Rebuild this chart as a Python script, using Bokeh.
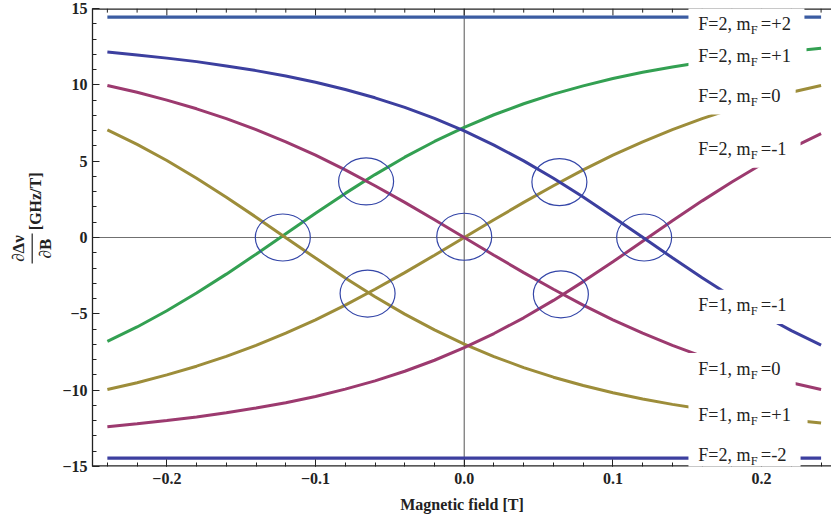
from math import pi

from bokeh.embed import file_html
from bokeh.layouts import row
from bokeh.models import (Arrow, BoxAnnotation, CustomJSTickFormatter, Label,
                          SingleIntervalTicker, Span)
from bokeh.plotting import figure
from bokeh.resources import INLINE

# Magnetic field samples [T]
field = [-0.24, -0.22, -0.20, -0.18, -0.16, -0.14, -0.12, -0.10, -0.08, -0.06,
         -0.04, -0.02, 0.00, 0.02, 0.04, 0.06, 0.08, 0.10, 0.12, 0.14,
         0.16, 0.18, 0.20, 0.22, 0.24]

# d(Delta nu)/dB [GHz/T] for each hyperfine sublevel
f2_p1 = [-6.81, -5.86, -4.80, -3.64, -2.40, -1.09, 0.25, 1.59, 2.89, 4.12,
         5.26, 6.29, 7.22, 8.04, 8.76, 9.39, 9.93, 10.41, 10.82, 11.17,
         11.48, 11.76, 11.99, 12.20, 12.39]
f1_m1 = [12.15, 11.96, 11.75, 11.52, 11.24, 10.93, 10.58, 10.17, 9.69, 9.15,
         8.52, 7.80, 6.98, 6.05, 5.02, 3.88, 2.65, 1.35, 0.01, -1.33,
         -2.64, -3.88, -5.04, -6.10, -7.05]
f2_m1 = [-12.39, -12.20, -11.99, -11.76, -11.48, -11.17, -10.82, -10.41, -9.93, -9.39,
         -8.76, -8.04, -7.22, -6.29, -5.26, -4.12, -2.89, -1.59, -0.25, 1.09,
         2.40, 3.64, 4.80, 5.86, 6.81]
f1_p1 = [7.05, 6.10, 5.04, 3.88, 2.64, 1.33, -0.01, -1.35, -2.65, -3.88,
         -5.02, -6.05, -6.98, -7.80, -8.52, -9.15, -9.69, -10.17, -10.58, -10.93,
         -11.24, -11.52, -11.75, -11.96, -12.15]
f2_0 = [-9.96, -9.51, -9.00, -8.43, -7.79, -7.07, -6.27, -5.39, -4.43, -3.39,
        -2.30, -1.16, 0.00, 1.16, 2.30, 3.39, 4.43, 5.39, 6.27, 7.07,
        7.79, 8.43, 9.00, 9.51, 9.96]
f1_0 = [9.96, 9.51, 9.00, 8.43, 7.79, 7.07, 6.27, 5.39, 4.43, 3.39,
        2.30, 1.16, 0.00, -1.16, -2.30, -3.39, -4.43, -5.39, -6.27, -7.07,
        -7.79, -8.43, -9.00, -9.51, -9.96]

# stretched states (field independent)
field_ends = [-0.24, 0.24]
f2_p2 = [14.44, 14.44]
f2_m2 = [-14.45, -14.45]

# level crossings that are circled
cross_field = [-0.122, -0.066, -0.065, 0.0, 0.064, 0.065, 0.121]
cross_value = [0.0, 3.67, -3.67, 0.05, 3.63, -3.72, 0.0]

# curve labels on the right
label_main = ["F=2, m", "F=2, m", "F=2, m", "F=2, m", "F=1, m", "F=1, m", "F=1, m", "F=2, m"]
label_rest = ["=+2", "=+1", "=0", "=-1", "=-1", "=0", "=+1", "=-2"]
label_y = [13.91, 11.79, 9.17, 5.69, -4.55, -8.68, -11.70, -14.32]
label_box_right = [0.2288, 0.2302, 0.2229, 0.2262, 0.2262, 0.2229, 0.2309, 0.2262]

# tick marks along the top edge of the frame
top_ticks = [round(i * 0.02, 2) for i in range(-12, 13)]

NAVY = "#3c3f9f"
STEEL = "#3b5ca2"
MAGENTA = "#9c3a6f"
OLIVE = "#9d8d3a"
GREEN = "#33a052"
INK = "#222222"
SERIF = "Liberation Serif"

TITLE_W = 58
H = 519

# ---- main plot -------------------------------------------------------------
p = figure(width=831 - TITLE_W, height=H, x_range=(-0.25, 0.247), y_range=(-15, 15),
           output_backend="svg", toolbar_location=None,
           min_border_left=92 - TITLE_W, min_border_right=0, min_border_top=8,
           min_border_bottom=53)
p.outline_line_color = None
p.xgrid.visible = False
p.ygrid.visible = False

xfmt = CustomJSTickFormatter(code="return (tick < -1e-9 ? '\u2212' : '') + Math.abs(tick).toFixed(1);")
yfmt = CustomJSTickFormatter(code="return (tick < -1e-9 ? '\u2212' : '') + Math.abs(tick).toFixed(0);")


def style_axis(ax):
    ax.axis_line_color = INK
    ax.axis_line_width = 1.3
    ax.major_tick_line_color = INK
    ax.minor_tick_line_color = INK
    ax.major_tick_in = 7
    ax.major_tick_out = 0
    ax.minor_tick_in = 4
    ax.minor_tick_out = 0
    ax.major_label_text_font = SERIF
    ax.major_label_text_font_style = "bold"
    ax.major_label_text_font_size = "16px"
    ax.major_label_text_color = INK


xa = p.xaxis[0]
xa.ticker = SingleIntervalTicker(interval=0.1, num_minor_ticks=5)
xa.formatter = xfmt
style_axis(xa)
xa.axis_line_color = None  # bottom edge drawn as a span so label boxes can cover it
xa.major_label_standoff = 6
xa.axis_label = "Magnetic field [T]"
xa.axis_label_text_font = SERIF
xa.axis_label_text_font_style = "bold"
xa.axis_label_text_font_size = "16px"
xa.axis_label_text_color = INK
xa.axis_label_standoff = 9

ya = p.yaxis[0]
ya.ticker = SingleIntervalTicker(interval=5, num_minor_ticks=5)
ya.formatter = yfmt
style_axis(ya)
ya.major_label_standoff = 5

# top and bottom frame edges; top one carries inward ticks
p.add_layout(Span(location=15, dimension="width", line_color=INK, line_width=2.6))
p.add_layout(Span(location=-15, dimension="width", line_color=INK, line_width=2.6))
tick_len = [0.46 if abs(t * 10 - round(t * 10)) < 1e-6 else 0.27 for t in top_ticks]
p.segment(x0=top_ticks, y0=[15] * len(top_ticks), x1=top_ticks,
          y1=[15 - d for d in tick_len], line_color=INK, line_width=1)

# zero lines
p.add_layout(Span(location=0, dimension="width", line_color="#707070", line_width=1.2, level="underlay"))
p.add_layout(Span(location=0, dimension="height", line_color="#707070", line_width=1.2, level="underlay"))

# curves
p.line(field_ends, f2_p2, line_color=STEEL, line_width=3.2)
p.line(field_ends, f2_m2, line_color=NAVY, line_width=3.2)
p.line(field, f2_p1, line_color=GREEN, line_width=3)
p.line(field, f2_0, line_color=OLIVE, line_width=3)
p.line(field, f1_p1, line_color=OLIVE, line_width=3)
p.line(field, f2_m1, line_color=MAGENTA, line_width=3)
p.line(field, f1_0, line_color=MAGENTA, line_width=3)
p.line(field, f1_m1, line_color=NAVY, line_width=3)

# circled crossings
p.ellipse(cross_field, cross_value, width=55, height=47, width_units="screen",
          height_units="screen", fill_color=None, line_color="#3446a8", line_width=1.2)

# right-hand labels on white boxes
LABEL_X = 0.1574
BOX_LEFT = 0.1508
for main, rest, yc, br in zip(label_main, label_rest, label_y, label_box_right):
    p.add_layout(BoxAnnotation(left=BOX_LEFT, right=br, top=yc + 1.12, bottom=yc - 1.12,
                               fill_color="white", fill_alpha=1.0, line_color=None))
    common = dict(x=LABEL_X, y=yc, text_font=SERIF, text_color=INK,
                  text_baseline="middle", text_align="left")
    p.add_layout(Label(text=main, text_font_size="18px", y_offset=1.5, **common))
    p.add_layout(Label(text="F", text_font_size="12.5px", x_offset=52.5, y_offset=-4.5, **common))
    p.add_layout(Label(text=rest, text_font_size="18.5px", x_offset=62.5, y_offset=1.5, **common))

# ---- rotated y-axis title: d(Delta nu)/dB [GHz/T] -----------------------------
t = figure(width=TITLE_W, height=H, x_range=(0, TITLE_W), y_range=(0, H),
           output_backend="svg", toolbar_location=None, x_axis_location=None,
           y_axis_location=None, min_border=0)
t.outline_line_color = None
t.xgrid.visible = False
t.ygrid.visible = False
ylab = dict(text_font=SERIF, text_font_style="bold", text_color=INK,
            text_align="center", text_baseline="middle", angle=pi / 2)
t.add_layout(Label(x=17.5, y=H - 272, text="\u2202\u0394\u03bd", text_font_size="17px", **ylab))
t.add_layout(Label(x=45, y=H - 272, text="\u2202B", text_font_size="17px", **ylab))
t.add_layout(Label(x=35, y=H - 218.5, text="[GHz/T]", text_font_size="16px", **ylab))
t.add_layout(Arrow(x_start=31.7, y_start=H - 255, x_end=31.7, y_end=H - 289,
                   start=None, end=None, line_color=INK, line_width=1.2))

layout = row(t, p, spacing=0)
open("out.html", "w").write(file_html(layout, INLINE))
